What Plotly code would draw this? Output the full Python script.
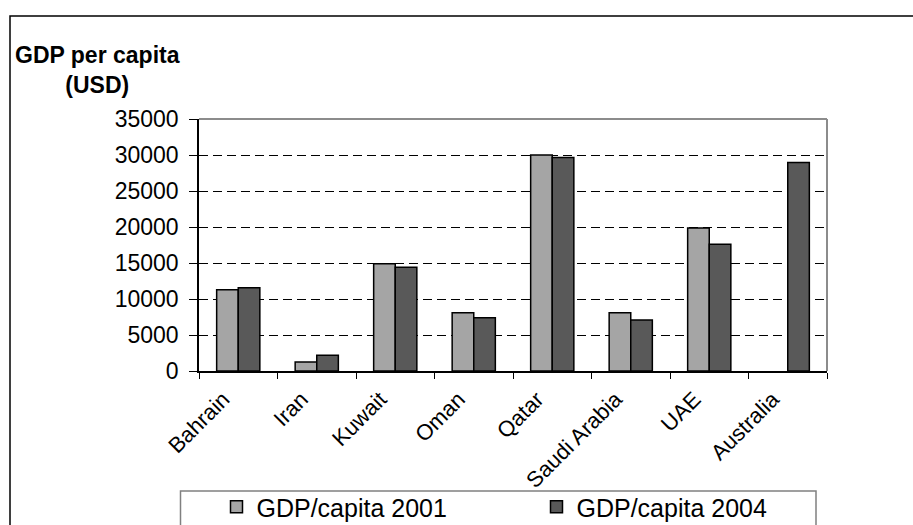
import plotly.graph_objects as go

categories = ["Bahrain", "Iran", "Kuwait", "Oman", "Qatar", "Saudi Arabia", "UAE", "Australia"]
gdp_2001 = [11300, 1250, 14900, 8100, 30000, 8100, 19850, None]
gdp_2004 = [11550, 2200, 14400, 7400, 29650, 7100, 17600, 28950]
y_ticks = [0, 5000, 10000, 15000, 20000, 25000, 30000, 35000]
y_tick_labels = [str(v) for v in y_ticks]

FONT = "Arial, Liberation Sans, sans-serif"

fig = go.Figure()
fig.add_trace(go.Bar(x=categories, y=gdp_2001, name="GDP/capita 2001", legend="legend",
                     marker=dict(color="#A5A5A5", line=dict(color="black", width=1.5))))
fig.add_trace(go.Bar(x=categories, y=gdp_2004, name="GDP/capita 2004", legend="legend2",
                     marker=dict(color="#595959", line=dict(color="black", width=1.5))))

L, R, T, B = 199, 86, 119, 154
W, H = 913, 525
pw, ph = W - L - R, H - T - B

def px(x):
    return (x - L) / pw

def py(y):
    return (H - B - y) / ph

legend_common = dict(orientation="h", xanchor="left", yanchor="top", itemwidth=30,
                     font=dict(size=25, family=FONT, color="black"),
                     bgcolor="rgba(0,0,0,0)", borderwidth=0)

fig.update_layout(
    width=W, height=H,
    margin=dict(l=L, r=R, t=T, b=B, pad=0, autoexpand=False),
    paper_bgcolor="white", plot_bgcolor="white",
    barmode="group", bargap=0.45, bargroupgap=0,
    font=dict(family=FONT, color="black"),
    showlegend=True,
    legend=dict(x=px(216.5), y=py(484), **legend_common),
    legend2=dict(x=px(536.5), y=py(484), **legend_common),
    xaxis=dict(type="category", showline=True, linecolor="black", linewidth=1.5,
               ticks="outside", tickson="boundaries", ticklen=6, tickcolor="black",
               tickangle=-45, tickfont=dict(size=22, family=FONT, color="black"), showgrid=False,
               automargin=False, ticklabelshift=-15, ticklabelstandoff=5),
    yaxis=dict(range=[0, 35000], tickvals=y_ticks, ticktext=y_tick_labels, showline=True,
               linecolor="black", linewidth=1.5, ticks="outside", ticklen=8, tickcolor="black",
               tickfont=dict(size=23, family=FONT, color="black"), ticklabelstandoff=6,
               showgrid=True, gridcolor="black", gridwidth=1, griddash="9px,5px",
               zeroline=False, automargin=False),
    annotations=[dict(text="<b>GDP per capita</b><br><b>(USD)</b>", xref="paper", yref="paper",
                      x=px(97.5), y=py(70), xanchor="center", yanchor="middle",
                      align="center", showarrow=False, font=dict(size=23, family=FONT, color="black"))],
    shapes=[
        dict(type="line", xref="paper", yref="paper", x0=0, x1=1, y0=1, y1=1,
             line=dict(color="#8C8C8C", width=2), layer="above"),
        dict(type="line", xref="paper", yref="paper", x0=1, x1=1, y0=0, y1=1,
             line=dict(color="#8C8C8C", width=2), layer="above"),
        dict(type="path", xref="paper", yref="paper",
             path=f"M {px(10)},{py(600)} L {px(10)},{py(16)} L {px(1000)},{py(16)}",
             line=dict(color="black", width=1.5), layer="above"),
        dict(type="rect", xref="paper", yref="paper", x0=px(180.5), x1=px(816), y0=py(491), y1=py(600),
             line=dict(color="#808080", width=1.5), fillcolor="rgba(0,0,0,0)", layer="above"),
    ],
)

fig.write_html("out.html")
